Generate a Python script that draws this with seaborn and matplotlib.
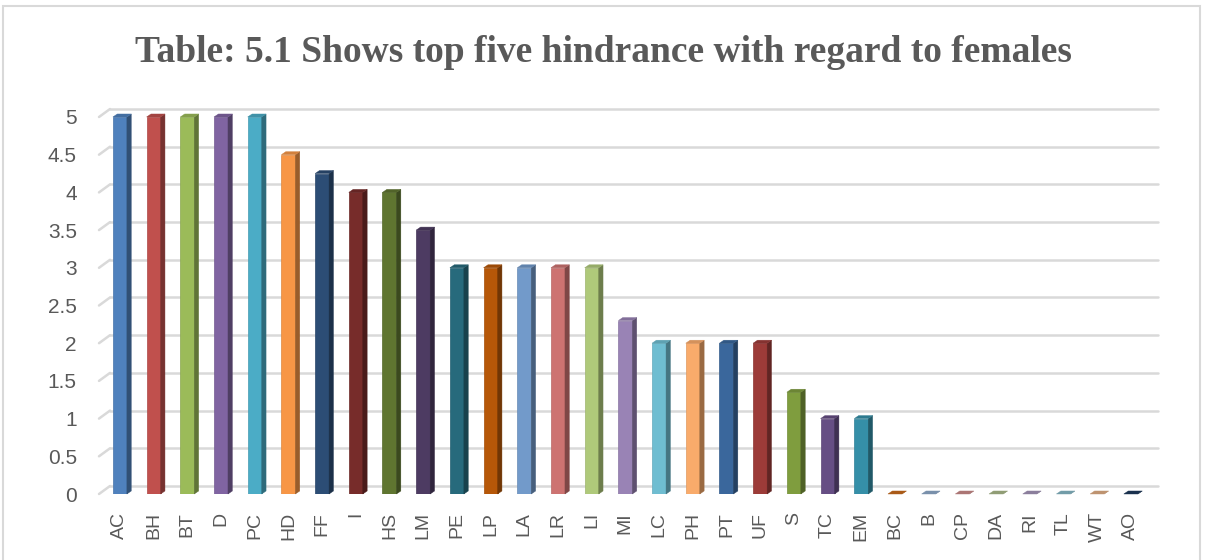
import numpy as np
import pandas as pd
import matplotlib
matplotlib.use("Agg")
import matplotlib.pyplot as plt
from matplotlib.patches import Polygon, Rectangle
import matplotlib.colors as mcolors
import matplotlib.transforms as mtransforms
import seaborn as sns

# Hindrance codes and their scores
categories = ["AC", "BH", "BT", "D", "PC", "HD", "FF", "I", "HS", "LM", "PE", "LP",
              "LA", "LR", "LI", "MI", "LC", "PH", "PT", "UF", "S", "TC", "EM",
              "BC", "B", "CP", "DA", "RI", "TL", "WT", "AO"]
scores = [5, 5, 5, 5, 5, 4.5, 4.25, 4, 4, 3.5, 3, 3, 3, 3, 3, 2.3, 2, 2, 2, 2,
          1.35, 1, 1, 0, 0, 0, 0, 0, 0, 0, 0]
bar_colors = ["#4F81BD", "#C0504D", "#9BBB59", "#8064A2", "#4BACC6", "#F79646",
              "#2C4D75", "#772C2A", "#5F7530", "#4D3B62", "#276A7C", "#B65708",
              "#729ACA", "#CD7371", "#AFC97A", "#9983B5", "#6FBDD1", "#F9AB6B",
              "#3A679C", "#9C3B38", "#7F9D3E", "#664E84", "#358FA8", "#C86A1B",
              "#8EA9C9", "#C98A88", "#A9B98A", "#A394B8", "#86B8C6", "#E0AD84",
              "#1F3A5C"]
y_ticks = [0, 0.5, 1, 1.5, 2, 2.5, 3, 3.5, 4, 4.5, 5]
title = "Table: 5.1 Shows top five hindrance with regard to females"

df = pd.DataFrame({"code": categories, "score": scores})

sns.set_style("white")
plt.rcParams["font.family"] = ["Liberation Sans", "DejaVu Sans"]

W, H = 1206, 560
fig = plt.figure(figsize=(W / 100, H / 100), dpi=100)
# front plane of the 3-D plot area
ax = fig.add_axes([99 / W, (H - 494) / H, 1048 / W, (494 - 117) / H])

# light chart-area border
fig.patches.append(Rectangle((3 / W, -0.01), 1197 / W, 1.0, transform=fig.transFigure,
                             fill=False, edgecolor="#D9D9D9", linewidth=1.5))

sns.barplot(data=df, x="code", y="score", hue="code", palette=bar_colors,
            width=0.415, legend=False, ax=ax, saturation=1, zorder=3)

ax.set_xlim(-0.62, 30.48)
ax.set_ylim(0, 5)

# gridlines sit on the back wall, shifted up and to the right of the front plane
wall_shift = mtransforms.ScaledTranslation(11 / 100, 8 / 100, fig.dpi_scale_trans)
ytrans = ax.get_yaxis_transform()
for t in y_ticks:
    ax.plot([0, 1], [t, t], transform=ytrans + wall_shift, color="#D9D9D9",
            linewidth=1.8, clip_on=False, zorder=1)
    # slanted joint between floor edge and back wall
    p0 = ytrans.transform((0, t))
    p1 = (ytrans + wall_shift).transform((0, t))
    ax.plot([p0[0], p1[0]], [p0[1], p1[1]], transform=None, color="#D9D9D9",
            linewidth=1.8, clip_on=False, zorder=1)

# give each bar a shaded side and top face
dx, dy = 0.13, 0.04
for patch, col in zip(ax.patches, bar_colors):
    x0 = patch.get_x()
    w = patch.get_width()
    h = patch.get_height()
    rgb = np.array(mcolors.to_rgb(col))
    side = rgb * 0.62
    top = rgb * 0.85
    patch.set_edgecolor(tuple(rgb * 0.9))
    patch.set_linewidth(0.5)
    ax.add_patch(Polygon([(x0 + w, 0), (x0 + w + dx, dy), (x0 + w + dx, h + dy), (x0 + w, h)],
                         closed=True, facecolor=side, edgecolor=side, linewidth=0.3,
                         zorder=3, clip_on=False))
    ax.add_patch(Polygon([(x0, h), (x0 + w, h), (x0 + w + dx, h + dy), (x0 + dx, h + dy)],
                         closed=True, facecolor=top, edgecolor=top, linewidth=0.3,
                         zorder=4, clip_on=False))

ax.set_yticks(y_ticks)
ax.set_yticklabels([f"{t:g}" for t in y_ticks])
ax.tick_params(axis="y", length=0, pad=16, labelsize=15, labelcolor="#595959")
ax.tick_params(axis="x", length=0, pad=13, labelsize=14, labelcolor="#595959",
               labelrotation=90)
ax.set_xlabel("")
ax.set_ylabel("")
for s in ax.spines.values():
    s.set_visible(False)

fig.text(0.5, 1 - 52 / H, title, ha="center", va="center", fontsize=27,
         fontweight="bold", color="#595959", family=["Liberation Serif", "DejaVu Serif"])

fig.savefig("out.png", dpi=100)
